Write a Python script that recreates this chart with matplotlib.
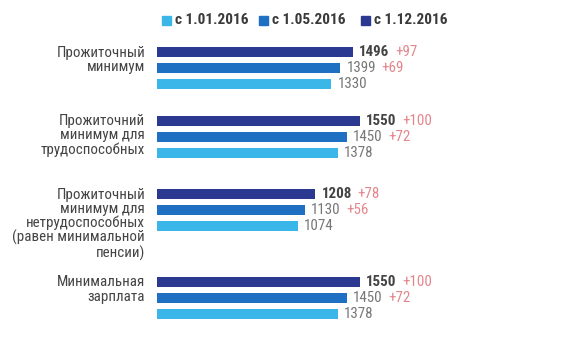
import matplotlib.pyplot as plt
import matplotlib.patches as mpatches

plt.rcParams['font.family'] = ['Roboto Condensed', 'Roboto', 'DejaVu Sans']

# ---------------------------------------------------------------------------
# Data
# ---------------------------------------------------------------------------
categories = [
    'Прожиточный\nминимум',
    'Прожиточний\nминимум для\nтрудоспособных',
    'Прожиточный\nминимум для\nнетрудоспособных\n(равен минимальной\nпенсии)',
    'Минимальная\nзарплата',
]
series_names = ['с 1.01.2016', 'с 1.05.2016', 'с 1.12.2016']
jan = [1330, 1378, 1074, 1378]
may = [1399, 1450, 1130, 1450]
dec = [1496, 1550, 1208, 1550]
may_inc = ['+69', '+72', '+56', '+72']
dec_inc = ['+97', '+100', '+78', '+100']

# ---------------------------------------------------------------------------
# Layout / style (pixel units, figure is 580x343)
# ---------------------------------------------------------------------------
COLORS = ['#3bb6e8', '#1f6fc2', '#2b3990']
NUM_COLOR = '#777777'
INC_COLOR = '#e3868c'
W, H = 580, 343
group_y = [68, 137, 210, 298]   # centre (middle bar) of each group, px from top
bar_step = 16
bar_h = 10
x0_px = 157                     # x pixel where value 0 sits
px_per_unit = 0.131
FS = 10.8

fig = plt.figure(figsize=(W / 100, H / 100), dpi=100)
ax = fig.add_axes([x0_px / W, 0, 1 - x0_px / W, 1])
ax.set_xlim(0, (W - x0_px) / px_per_unit)
ax.set_ylim(H, 0)
ax.axis('off')

for i, cat in enumerate(categories):
    yc = group_y[i]
    rows = [(dec[i], COLORS[2], yc - bar_step, True, dec_inc[i]),
            (may[i], COLORS[1], yc, False, may_inc[i]),
            (jan[i], COLORS[0], yc + bar_step, False, None)]
    for val, col, y, bold, inc in rows:
        ax.barh(y, val, height=bar_h, color=col)
        t = ax.annotate(str(val), (val, y), xytext=(4.5, 0), textcoords='offset points',
                        va='center', ha='left', fontsize=FS,
                        fontweight='bold' if bold else 'normal',
                        color='#444444' if bold else NUM_COLOR)
        if inc:
            ax.annotate(inc, xy=(1, 0.5), xycoords=t, xytext=(4, 0),
                        textcoords='offset points', va='center', ha='left',
                        fontsize=FS, color=INC_COLOR)
    # category label, right aligned left of the bars, first line level with top bar
    fig.text(145 / W, 1 - (yc - bar_step - 6.5) / H, cat, ha='right', va='top',
             fontsize=FS, color='#444444', linespacing=1.0,
             multialignment='right')

# Legend (manual, centred over the bars)
leg_sq_x = [162, 259, 361]
for name, col, lx in zip(series_names, COLORS, leg_sq_x):
    fig.patches.append(mpatches.Rectangle((lx / W, 1 - 24.5 / H), 9 / W, 9 / H,
                                          transform=fig.transFigure, color=col))
    fig.text((lx + 13) / W, 1 - 20 / H, name, ha='left', va='center',
             fontsize=11, fontweight='semibold', color='#3a3a3a')

fig.savefig('out.png', dpi=100)
